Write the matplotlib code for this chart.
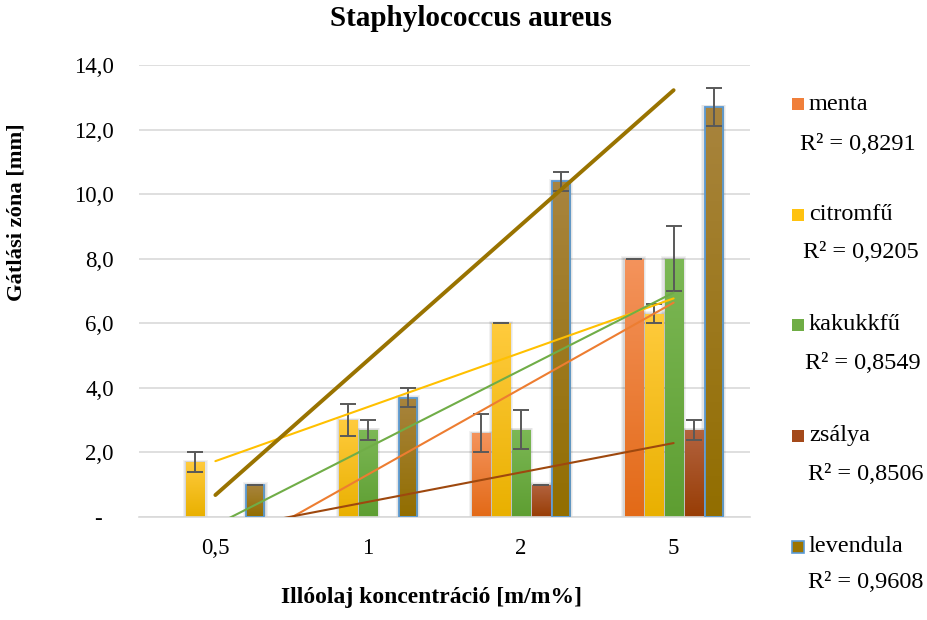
import matplotlib
matplotlib.use("Agg")
import matplotlib.pyplot as plt
import numpy as np
from matplotlib.patches import Rectangle
from matplotlib.colors import LinearSegmentedColormap

plt.rcParams['font.family'] = ['Liberation Serif', 'DejaVu Serif']

#------------------------------#
# Data
#------------------------------#

concentrations = ["0,5", "1", "2", "5"]
oils = ["menta", "citromfű", "kakukkfű", "zsálya", "levendula"]

menta = [0.0, 0.0, 2.6, 8.0]
citromfu = [1.7, 3.0, 6.0, 6.3]
kakukkfu = [0.0, 2.7, 2.7, 8.0]
zsalya = [0.0, 0.0, 1.0, 2.7]
levendula = [1.0, 3.7, 10.4, 12.7]

menta_err = [0.0, 0.0, 0.6, 0.0]
citromfu_err = [0.3, 0.5, 0.0, 0.3]
kakukkfu_err = [0.0, 0.3, 0.6, 1.0]
zsalya_err = [0.0, 0.0, 0.0, 0.3]
levendula_err = [0.0, 0.3, 0.3, 0.6]

r2_labels = ["R² = 0,8291", "R² = 0,9205", "R² = 0,8549", "R² = 0,8506", "R² = 0,9608"]

values = [menta, citromfu, kakukkfu, zsalya, levendula]
errors = [menta_err, citromfu_err, kakukkfu_err, zsalya_err, levendula_err]

# Styles
grad_top = ["#F4935C", "#FFCB3D", "#7CB855", "#B3633F", "#A8843E"]
grad_bot = ["#E36A17", "#E9B000", "#5E9E32", "#983D05", "#926E00"]
line_colors = ["#ED7D31", "#FFC000", "#70AD47", "#9E480E", "#997300"]
legend_colors = ["#F07F3A", "#FFC20F", "#6FAD45", "#A4491A", "#9C7400"]
line_widths = [1.5, 1.5, 1.5, 1.5, 2.8]

#------------------------------#

fig = plt.figure(figsize=(9.28, 6.2), dpi=100)
ax = fig.add_axes([139 / 928, 1 - 517 / 620, 611 / 928, 452 / 620])

x = np.arange(len(concentrations))
pitch = 0.131
width = 0.118

for i, vals in enumerate(values):
	cmap = LinearSegmentedColormap.from_list("g%d" % i, [grad_bot[i], grad_top[i]])
	offs = x + (i - 2) * pitch
	for xi, v, e in zip(offs, vals, errors[i]):
		if v <= 0:
			continue
		# soft shadow
		for k, a in enumerate([0.05, 0.05, 0.06]):
			grow = 0.012 * (3 - k)
			ax.add_patch(Rectangle((xi - width / 2 - grow * 0.6, 0), width + grow * 1.2, v + grow * 2,
				facecolor="black", edgecolor="none", alpha=a, zorder=1))
		rect = Rectangle((xi - width / 2, 0), width, v, facecolor="none",
			edgecolor=("#5B9BD5" if i == 4 else "none"), lw=1.3, zorder=3)
		ax.add_patch(rect)
		grad = np.linspace(0, 1, 100).reshape(-1, 1)
		im = ax.imshow(grad, cmap=cmap, origin="lower", aspect="auto",
			extent=[xi - width / 2, xi + width / 2, 0, v], zorder=2)
		im.set_clip_path(rect)
		# error bar
		ax.errorbar(xi, v, yerr=e, fmt="none", ecolor="#595959", elinewidth=1.4,
			capsize=5.5, capthick=1.4, zorder=4)

# Linear trendlines (Excel style, x = 1..n)
xf = np.arange(1, len(concentrations) + 1)
for i, vals in enumerate(values):
	k, b = np.polyfit(xf, vals, 1)
	ax.plot(x, k * xf + b, color=line_colors[i], lw=line_widths[i], zorder=5,
		solid_capstyle="round")

ax.set_xlim(-0.5, 3.5)
ax.set_ylim(0, 14)
yt = np.arange(0, 15, 2)
ax.set_yticks(yt)
ax.set_yticklabels(["-  "] + [("%.1f" % t).replace(".", ",") for t in yt[1:]])
ax.set_xticks(x)
ax.set_xticklabels(concentrations)
ax.tick_params(length=0, labelsize=16.5)
ax.tick_params(axis="y", pad=18)
ax.tick_params(axis="x", pad=15)
ax.grid(axis="y", color="#D9D9D9", lw=1.2, zorder=0)
ax.set_axisbelow(True)
for s in ["top", "right", "left"]:
	ax.spines[s].set_visible(False)
ax.spines["bottom"].set_color("#D9D9D9")
ax.spines["bottom"].set_linewidth(1.2)

fig.text(471 / 928, 1 - 19 / 620, "Staphylococcus aureus", ha="center", va="center",
	fontsize=21, fontweight="bold")
fig.text(17 / 928, 1 - 212 / 620, "Gátlási zóna [mm]", ha="center", va="center",
	rotation=90, fontsize=16.2, fontweight="bold")
fig.text(432 / 928, 1 - 598 / 620, "Illóolaj koncentráció [m/m%]", ha="center", va="center",
	fontsize=17, fontweight="bold")

# Legend with R² values
name_y = [104, 215, 325, 436, 547]
r2_y = [144, 253, 364, 475, 583]
r2_x = [800, 803, 805, 808, 808]
for i, name in enumerate(oils):
	ec = "#5B9BD5" if i == 4 else "none"
	fig.patches.append(Rectangle((792 / 928, 1 - (name_y[i] + 6) / 620), 12 / 928, 12 / 620,
		transform=fig.transFigure, facecolor=legend_colors[i], edgecolor=ec, lw=1.2))
	fig.text(809 / 928, 1 - name_y[i] / 620, name, ha="left", va="center", fontsize=17.5)
	fig.text(r2_x[i] / 928, 1 - r2_y[i] / 620, r2_labels[i], ha="left", va="center", fontsize=17.5)

fig.savefig("out.png", dpi=100)
